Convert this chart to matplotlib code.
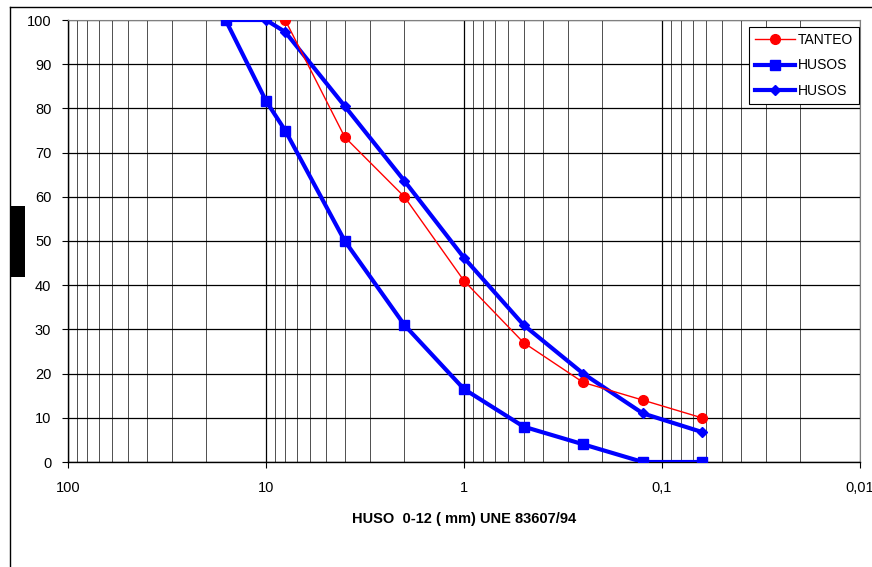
import matplotlib.pyplot as plt
from matplotlib.ticker import FixedLocator, LogLocator, NullFormatter
from matplotlib.patches import Rectangle
from matplotlib.lines import Line2D

plt.rcParams['font.family'] = ['Liberation Sans', 'DejaVu Sans']
plt.rcParams['font.size'] = 10.5

# Sieve sizes (mm) and passing percentages
tanteo_x = [8, 4, 2, 1, 0.5, 0.25, 0.125, 0.063]
tanteo_y = [100, 73.5, 60, 41, 27, 18, 14, 10]

husos_x = [16, 10, 8, 4, 2, 1, 0.5, 0.25, 0.125, 0.063]
husos_inf = [100, 81.7, 75, 50, 31, 16.5, 8, 4, 0, 0]
husos_sup = [100, 100, 97.3, 80.5, 63.6, 46.2, 31, 20, 11, 6.8]

x_ticks = [100, 10, 1, 0.1, 0.01]
x_labels = ['100', '10', '1', '0,1', '0,01']

fig = plt.figure(figsize=(8.72, 5.67), dpi=100)
ax = fig.add_axes([68/872, 105/567, 792/872, 442/567])

ax.plot(tanteo_x, tanteo_y, color='red', linewidth=1, marker='o', markersize=7, label='TANTEO', zorder=4)
ax.plot(husos_x, husos_inf, color='blue', linewidth=3, marker='s', markersize=7, label='HUSOS', zorder=3)
ax.plot(husos_x, husos_sup, color='blue', linewidth=3, marker='D', markersize=5.5, label='HUSOS', zorder=3)

ax.set_xscale('log')
ax.set_xlim(100, 0.01)
ax.set_ylim(0, 100)
ax.xaxis.set_major_locator(FixedLocator(x_ticks))
ax.set_xticklabels(x_labels)
ax.xaxis.set_minor_locator(LogLocator(base=10, subs=range(2, 10)))
ax.xaxis.set_minor_formatter(NullFormatter())
ax.set_yticks(range(0, 101, 10))

ax.grid(True, which='major', color='black', linewidth=0.9)
ax.grid(True, which='minor', axis='x', color='#333333', linewidth=0.6)
ax.tick_params(axis='x', which='minor', length=0)
ax.tick_params(axis='x', which='major', length=4, direction='out', pad=10)
ax.tick_params(axis='y', which='major', length=4, direction='out', pad=8)

for side in ['top', 'right']:
    ax.spines[side].set_color('gray')
ax.spines['left'].set_linewidth(1)
ax.spines['bottom'].set_linewidth(1)

ax.set_xlabel('HUSO  0-12 ( mm) UNE 83607/94', fontweight='bold', fontsize=10.5, labelpad=12)

leg = ax.legend(loc='upper right', bbox_to_anchor=(0.9987, 0.984), borderaxespad=0,
                fancybox=False, framealpha=1, edgecolor='black', fontsize=10,
                handlelength=2.9, handletextpad=0.15, borderpad=0.45, labelspacing=0.8)
leg.get_frame().set_linewidth(0.8)

# figure border and the black block on the left
fig.add_artist(Line2D([10/872, 1], [1 - 7/567, 1 - 7/567], transform=fig.transFigure, color='black', linewidth=1))
fig.add_artist(Line2D([10/872, 10/872], [0, 1 - 7/567], transform=fig.transFigure, color='black', linewidth=1))
fig.add_artist(Rectangle((10/872, 1 - 277/567), 15/872, 71/567, transform=fig.transFigure,
                         facecolor='black', edgecolor='none'))

fig.savefig('out.png', dpi=100)
